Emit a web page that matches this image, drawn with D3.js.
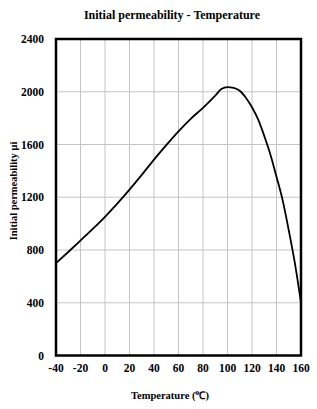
<html>
<head><meta charset="utf-8"/></head>
<script src='https://d3js.org/d3.v7.min.js'></script>
<style>
  body {margin: 0; background: #fff;}
  text {font-family: "Liberation Serif", serif; font-weight: bold; fill: #000;}
</style>
<body>
<svg width=317 height=409></svg>
<script>
// data
var temps = [-40, -30, -20, -10, 0, 10, 20, 30, 40, 50, 60, 70, 80, 90, 95, 100, 105, 110, 115, 120, 125, 130, 135, 140, 145, 150, 155, 160];
var mui   = [700, 785, 872, 960, 1052, 1152, 1258, 1370, 1485, 1595, 1700, 1795, 1878, 1970, 2020, 2035, 2030, 2008, 1955, 1882, 1790, 1665, 1525, 1355, 1178, 950, 700, 400];
var xTicks = [-40, -20, 0, 20, 40, 60, 80, 100, 120, 140, 160];
var yTicks = [0, 400, 800, 1200, 1600, 2000, 2400];

var pLeft = 56, pRight = 301, pTop = 39, pBottom = 355.5;
var x = d3.scaleLinear().domain([-40, 160]).range([pLeft, pRight]);
var y = d3.scaleLinear().domain([0, 2400]).range([pBottom, pTop]);

var svg = d3.select("svg");

// grid
svg.append("g").selectAll("line").data(xTicks.slice(1, -1)).enter().append("line")
  .attr("x1", d => x(d)).attr("x2", d => x(d))
  .attr("y1", pTop).attr("y2", pBottom)
  .attr("stroke", "#c4c4c4").attr("stroke-width", 1);
svg.append("g").selectAll("line").data(yTicks.slice(1, -1)).enter().append("line")
  .attr("x1", pLeft).attr("x2", pRight)
  .attr("y1", d => y(d)).attr("y2", d => y(d))
  .attr("stroke", "#c4c4c4").attr("stroke-width", 1);

// curve
var pts = temps.map((t, i) => [t, mui[i]]);
var line = d3.line().x(d => x(d[0])).y(d => y(d[1])).curve(d3.curveMonotoneX);
svg.append("path").datum(pts).attr("d", line)
  .attr("fill", "none").attr("stroke", "#000").attr("stroke-width", 1.8);

// frame
svg.append("rect").attr("x", pLeft).attr("y", pTop)
  .attr("width", pRight - pLeft).attr("height", pBottom - pTop)
  .attr("fill", "none").attr("stroke", "#000").attr("stroke-width", 2.5);

// tick labels
svg.append("g").selectAll("text").data(yTicks).enter().append("text")
  .attr("x", 44).attr("y", d => y(d) + 4)
  .attr("text-anchor", "end").attr("font-size", 11.5)
  .text(d => d);
svg.append("g").selectAll("text").data(xTicks).enter().append("text")
  .attr("x", d => x(d)).attr("y", 372)
  .attr("text-anchor", "middle").attr("font-size", 11.5)
  .text(d => d);

// titles
svg.append("text").attr("x", 172).attr("y", 19)
  .attr("text-anchor", "middle").attr("font-size", 12)
  .text("Initial permeability - Temperature");
svg.append("text").attr("x", 170).attr("y", 399)
  .attr("text-anchor", "middle").attr("font-size", 10.5)
  .text("Temperature (℃)");
svg.append("text").attr("transform", "translate(17,191) rotate(-90)")
  .attr("text-anchor", "middle").attr("font-size", 10.5)
  .text("Initial permeability μi");
</script>
</body>
</html>
